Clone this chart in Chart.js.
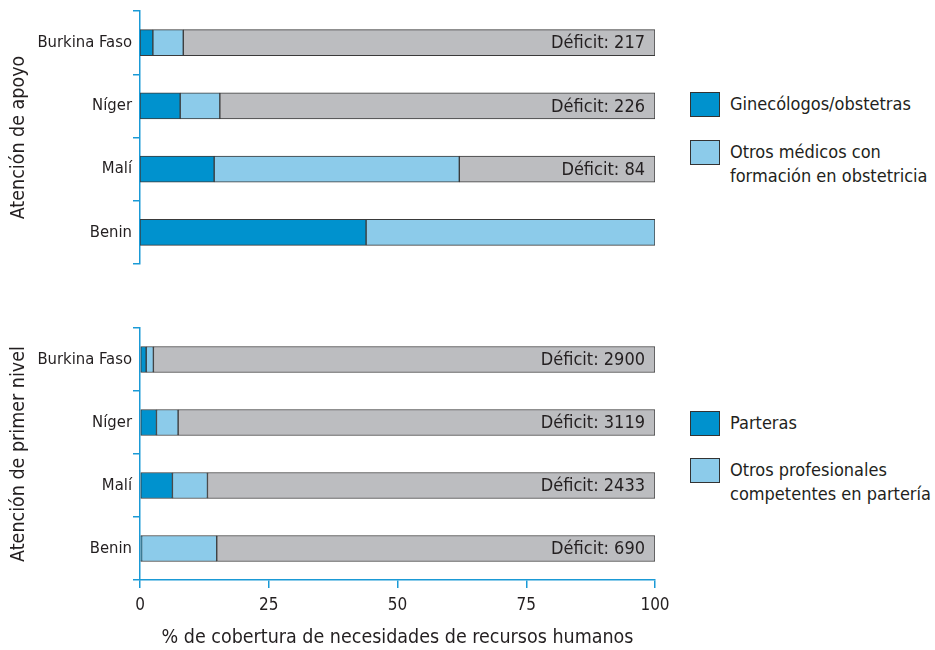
<!DOCTYPE html>
<html>
<head>
<meta charset="utf-8">
<script src="https://cdn.jsdelivr.net/npm/chart.js@4.4.1/dist/chart.umd.min.js"></script>
<style>
  body{margin:0;background:#fff;width:935px;height:650px;position:relative;overflow:hidden;
       font-family:'Liberation Sans Narrow','DejaVu Sans Condensed',sans-serif;color:#231f20}
  .wrap{position:absolute;left:0}
  .leg{position:absolute;left:690px;font-size:18px;line-height:24px}
  .sw{position:absolute;left:0;width:30px;height:25px;border:1px solid #333;box-sizing:border-box}
  .lt{position:absolute;left:40px;white-space:nowrap}
</style>
</head>
<body>
<div class="wrap" style="top:0;width:680px;height:280px"><canvas id="topChart"></canvas></div>
<div class="wrap" style="top:315px;width:680px;height:335px"><canvas id="botChart"></canvas></div>

<div class="leg" style="top:92px">
  <div class="sw" style="background:#0092ce"></div><div class="lt" style="top:0">Ginecólogos/obstetras</div>
</div>
<div class="leg" style="top:140px">
  <div class="sw" style="background:#8ccbea"></div><div class="lt" style="top:0">Otros médicos con<br>formación en obstetricia</div>
</div>
<div class="leg" style="top:411px">
  <div class="sw" style="background:#0092ce"></div><div class="lt" style="top:0">Parteras</div>
</div>
<div class="leg" style="top:458px">
  <div class="sw" style="background:#8ccbea"></div><div class="lt" style="top:0">Otros profesionales<br>competentes en partería</div>
</div>

<script>
const countries = ['Burkina Faso', 'Níger', 'Malí', 'Benin'];

// Atención de apoyo (% of needs)
const apoyoGineco  = [2.5, 7.8, 14.4, 43.9];
const apoyoOtros   = [5.9, 7.7, 47.6, 56.1];
const apoyoDeficit = [91.6, 84.5, 38.0, 0];
const apoyoDeficitN = [217, 226, 84, null];

// Atención de primer nivel
const primerParteras = [1.2, 3.2, 6.3, 0.3];
const primerOtros    = [1.4, 4.2, 6.8, 14.6];
const primerDeficit  = [97.4, 92.6, 86.9, 85.1];
const primerDeficitN = [2900, 3119, 2433, 690];

const xTicks = [0, 25, 50, 75, 100];

const DARK = '#0092ce', LIGHT = '#8ccbea', GREY = '#bcbdc0', AXIS = '#1a9ad6';
const FONT = "'Liberation Sans Narrow','DejaVu Sans Condensed',sans-serif";
Chart.defaults.font.family = FONT;
Chart.defaults.color = '#231f20';

const deficitLabels = {
  id: 'deficitLabels',
  afterDatasetsDraw(chart, args, opts){
    const {ctx, scales:{x, y}} = chart;
    ctx.save();
    ctx.font = '18px ' + FONT;
    ctx.fillStyle = '#231f20';
    ctx.textAlign = 'right';
    ctx.textBaseline = 'middle';
    opts.values.forEach((v, i) => {
      if (v == null) return;
      ctx.fillText('Déficit: ' + v, x.getPixelForValue(100) - 10, y.getPixelForValue(i) + 1);
    });
    ctx.restore();
  }
};

function makeChart(id, a, b, c, nums, title, showX){
  const ds = (data, color) => ({data, backgroundColor: color, borderColor: '#3a3a3a',
    borderWidth: 1, borderSkipped: false, barThickness: 26});
  return new Chart(document.getElementById(id), {
    type: 'bar',
    data: { labels: countries, datasets: [ds(a, DARK), ds(b, LIGHT), ds(c, GREY)] },
    options: {
      indexAxis: 'y',
      responsive: true, maintainAspectRatio: false, animation: false,
      layout: { padding: { top: showX ? 13 : 11, right: 25, bottom: showX ? 0 : 16, left: 0 } },
      plugins: { legend: { display: false }, tooltip: { enabled: false },
                 deficitLabels: { values: nums } },
      scales: {
        x: {
          display: showX, stacked: true, min: 0, max: 100,
          afterBuildTicks: s => { s.ticks = xTicks.map(v => ({value: v})); },
          grid: { drawOnChartArea: false, color: AXIS, tickLength: 8, lineWidth: 1.5 },
          border: { color: AXIS, width: 1.5 },
          ticks: { font: { size: 17 }, padding: 7, maxRotation: 0 },
          title: { display: true, text: '% de cobertura de necesidades de recursos humanos',
                   font: { size: 19.5 }, padding: { top: 10, bottom: 0 } },
          afterFit: s => { if (showX) s.height = 70; }
        },
        y: {
          stacked: true,
          grid: { drawOnChartArea: false, color: AXIS, tickLength: 7, lineWidth: 1.5,
                  offset: true },
          border: { color: AXIS, width: 1.5 },
          ticks: { font: { size: 16.5 }, padding: 1 },
          title: { display: true, text: title, font: { size: 19.5 }, padding: { top: 7, bottom: 0 } },
          afterFit: s => { s.width = 140; }
        }
      }
    },
    plugins: [deficitLabels]
  });
}

makeChart('topChart', apoyoGineco, apoyoOtros, apoyoDeficit, apoyoDeficitN, 'Atención de apoyo', false);
makeChart('botChart', primerParteras, primerOtros, primerDeficit, primerDeficitN, 'Atención de primer nivel', true);
</script>
</body>
</html>
